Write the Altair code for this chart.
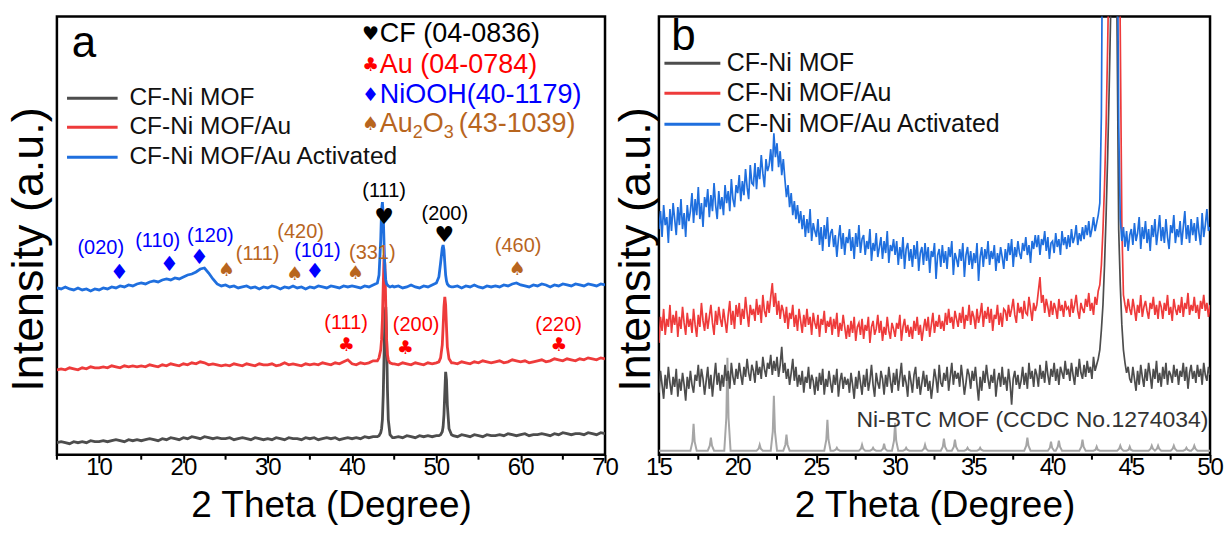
import altair as alt
import pandas as pd

GRAY = "#4D4D4D"
RED = "#EE3B3B"
BLUE = "#1F6FDE"
BROWN = "#B8651E"
TBLUE = "#0000FF"
TRED = "#FF0000"
REFC = "#A6A6A6"

# ---------------- Panel a: 2 Theta grid and stacked intensities (a.u.) ----------------
A_X = [
    5.0, 5.5, 6.0, 6.5, 7.0, 7.5, 8.0, 8.5, 9.0, 9.5,
    10.0, 10.5, 11.0, 11.5, 12.0, 12.5, 13.0, 13.5, 14.0, 14.5,
    15.0, 15.5, 16.0, 16.5, 17.0, 17.5, 18.0, 18.5, 19.0, 19.5,
    20.0, 20.5, 21.0, 21.5, 22.0, 22.5, 23.0, 23.5, 24.0, 24.5,
    25.0, 25.5, 26.0, 26.5, 27.0, 27.5, 28.0, 28.5, 29.0, 29.5,
    30.0, 30.5, 31.0, 31.5, 32.0, 32.5, 33.0, 33.5, 34.0, 34.5,
    35.0, 35.5, 36.0, 36.5, 37.0, 37.5, 38.0, 38.5, 39.0, 39.5,
    40.0, 40.5, 41.0, 41.5, 42.0, 42.5,
    43.0, 43.2, 43.4, 43.5, 43.6, 43.7, 43.8, 43.9, 44.0, 44.1, 44.2, 44.3, 44.5, 44.8,
    45.0, 45.5, 46.0, 46.5, 47.0, 47.5, 48.0, 48.5, 49.0, 49.5, 50.0,
    50.3, 50.5, 50.7, 50.8, 50.9, 51.0, 51.1, 51.2, 51.3, 51.5, 51.8,
    52.0, 52.5, 53.0, 53.5, 54.0, 54.5, 55.0, 55.5, 56.0, 56.5,
    57.0, 57.5, 58.0, 58.5, 59.0, 59.5, 60.0, 60.5, 61.0, 61.5,
    62.0, 62.5, 63.0, 63.5, 64.0, 64.5, 65.0, 65.5, 66.0, 66.5,
    67.0, 67.5, 68.0, 68.5, 69.0, 69.5, 70.0,
]
A_GRAY = [
    12, 13, 12, 11, 13, 12, 13, 12, 14, 13,
    13, 14, 13, 14, 15, 14, 13, 15, 14, 15,
    14, 15, 16, 15, 14, 16, 15, 17, 16, 15,
    17, 16, 18, 17, 16, 18, 17, 16, 17, 16,
    16, 17, 15, 16, 17, 16, 15, 17, 16, 15,
    16, 15, 17, 16, 15, 17, 16, 16, 15, 17,
    16, 17, 15, 16, 17, 16, 17, 15, 16, 17,
    16, 17, 16, 18, 17, 18,
    18, 19, 22, 26, 35, 60, 100, 140, 148, 115, 65, 35, 20, 17,
    17, 18, 17, 19, 18, 17, 19, 18, 19, 18, 19,
    19, 20, 23, 28, 40, 62, 83, 75, 50, 26, 20,
    19, 18, 20, 19, 18, 20, 19, 18, 20, 19,
    19, 20, 19, 21, 20, 19, 20, 21, 19, 20,
    20, 21, 20, 19, 21, 20, 22, 21, 20, 21,
    21, 20, 22, 21, 20, 22, 21,
]
A_RED = [
    85, 86, 85, 87, 86, 85, 87, 86, 88, 87,
    87, 88, 87, 89, 88, 87, 89, 88, 89, 88,
    89, 88, 90, 89, 88, 90, 89, 91, 90, 89,
    91, 90, 92, 91, 93, 92, 90, 91, 90, 89,
    90, 89, 91, 90, 89, 91, 90, 89, 91, 90,
    90, 91, 89, 90, 92, 90, 91, 90, 89, 91,
    90, 91, 90, 92, 91, 90, 92, 91, 93, 95,
    91, 90, 92, 91, 92, 94,
    94, 97, 105, 115, 135, 170, 200, 190, 150, 115, 100, 95, 92, 91,
    91, 90, 92, 91, 90, 92, 91, 90, 92, 91, 92,
    93, 97, 110, 128, 148, 158, 150, 128, 108, 96, 92,
    92, 91, 93, 92, 91, 93, 92, 94, 93, 92,
    93, 94, 92, 93, 95, 94, 93, 94, 92, 93,
    94, 95, 93, 94, 96, 95, 94, 96, 95, 94,
    96, 95, 97, 96, 95, 97, 96,
]
A_BLUE = [
    167, 166, 168, 166, 165, 167, 165, 166, 164, 166,
    165, 167, 166, 168, 167, 169, 168, 170, 169, 171,
    172, 171, 173, 174, 173, 175, 176, 175, 177, 176,
    178, 180, 181, 183, 186, 187, 182, 176, 171, 169,
    170, 168, 169, 167, 168, 169, 167, 168, 166, 168,
    167, 169, 168, 166, 168, 167, 169, 167, 168, 166,
    168, 167, 169, 168, 167, 169, 168, 167, 169, 168,
    169, 168, 167, 169, 168, 170,
    172, 180, 215, 245, 253, 240, 210, 185, 175, 171, 170, 169, 168, 169,
    168, 169, 167, 168, 170, 168, 167, 169, 168, 170, 172,
    178, 192, 207, 210, 205, 192, 180, 174, 171, 169, 168,
    168, 169, 167, 169, 168, 170, 168, 167, 169, 168,
    169, 168, 170, 169, 171, 172, 170, 169, 168, 170,
    169, 171, 170, 168, 170, 169, 171, 170, 169, 171,
    170, 169, 171, 170, 169, 171, 170,
]

# ---------------- Panel b (0.1 degree steps) ----------------
B_X = [
    15.0, 15.1, 15.2, 15.3, 15.4, 15.5, 15.6, 15.7, 15.8, 15.9,
    16.0, 16.1, 16.2, 16.3, 16.4, 16.5, 16.6, 16.7, 16.8, 16.9,
    17.0, 17.1, 17.2, 17.3, 17.4, 17.5, 17.6, 17.7, 17.8, 17.9,
    18.0, 18.1, 18.2, 18.3, 18.4, 18.5, 18.6, 18.7, 18.8, 18.9,
    19.0, 19.1, 19.2, 19.3, 19.4, 19.5, 19.6, 19.7, 19.8, 19.9,
    20.0, 20.1, 20.2, 20.3, 20.4, 20.5, 20.6, 20.7, 20.8, 20.9,
    21.0, 21.1, 21.2, 21.3, 21.4, 21.5, 21.6, 21.7, 21.8, 21.9,
    22.0, 22.1, 22.2, 22.3, 22.4, 22.5, 22.6, 22.7, 22.8, 22.9,
    23.0, 23.1, 23.2, 23.3, 23.4, 23.5, 23.6, 23.7, 23.8, 23.9,
    24.0, 24.1, 24.2, 24.3, 24.4, 24.5, 24.6, 24.7, 24.8, 24.9,
    25.0, 25.1, 25.2, 25.3, 25.4, 25.5, 25.6, 25.7, 25.8, 25.9,
    26.0, 26.1, 26.2, 26.3, 26.4, 26.5, 26.6, 26.7, 26.8, 26.9,
    27.0, 27.1, 27.2, 27.3, 27.4, 27.5, 27.6, 27.7, 27.8, 27.9,
    28.0, 28.1, 28.2, 28.3, 28.4, 28.5, 28.6, 28.7, 28.8, 28.9,
    29.0, 29.1, 29.2, 29.3, 29.4, 29.5, 29.6, 29.7, 29.8, 29.9,
    30.0, 30.1, 30.2, 30.3, 30.4, 30.5, 30.6, 30.7, 30.8, 30.9,
    31.0, 31.1, 31.2, 31.3, 31.4, 31.5, 31.6, 31.7, 31.8, 31.9,
    32.0, 32.1, 32.2, 32.3, 32.4, 32.5, 32.6, 32.7, 32.8, 32.9,
    33.0, 33.1, 33.2, 33.3, 33.4, 33.5, 33.6, 33.7, 33.8, 33.9,
    34.0, 34.1, 34.2, 34.3, 34.4, 34.5, 34.6, 34.7, 34.8, 34.9,
    35.0, 35.1, 35.2, 35.3, 35.4, 35.5, 35.6, 35.7, 35.8, 35.9,
    36.0, 36.1, 36.2, 36.3, 36.4, 36.5, 36.6, 36.7, 36.8, 36.9,
    37.0, 37.1, 37.2, 37.3, 37.4, 37.5, 37.6, 37.7, 37.8, 37.9,
    38.0, 38.1, 38.2, 38.3, 38.4, 38.5, 38.6, 38.7, 38.8, 38.9,
    39.0, 39.1, 39.2, 39.3, 39.4, 39.5, 39.6, 39.7, 39.8, 39.9,
    40.0, 40.1, 40.2, 40.3, 40.4, 40.5, 40.6, 40.7, 40.8, 40.9,
    41.0, 41.1, 41.2, 41.3, 41.4, 41.5, 41.6, 41.7, 41.8, 41.9,
    42.0, 42.1, 42.2, 42.3, 42.4, 42.5, 42.6, 42.7, 42.8, 42.9,
    43.0, 43.1, 43.2, 43.3, 43.4, 43.5, 43.6, 43.7, 43.8, 43.9,
    44.0, 44.1, 44.2, 44.3, 44.4, 44.5, 44.6, 44.7, 44.8, 44.9,
    45.0, 45.1, 45.2, 45.3, 45.4, 45.5, 45.6, 45.7, 45.8, 45.9,
    46.0, 46.1, 46.2, 46.3, 46.4, 46.5, 46.6, 46.7, 46.8, 46.9,
    47.0, 47.1, 47.2, 47.3, 47.4, 47.5, 47.6, 47.7, 47.8, 47.9,
    48.0, 48.1, 48.2, 48.3, 48.4, 48.5, 48.6, 48.7, 48.8, 48.9,
    49.0, 49.1, 49.2, 49.3, 49.4, 49.5, 49.6, 49.7, 49.8, 49.9,
    50.0,
]
B_BLUE = [
    226, 244, 218, 250, 230, 238, 212, 246, 224, 252,
    236, 220, 248, 230, 256, 226, 242, 218, 250, 234,
    244, 262, 232, 256, 240, 268, 236, 252, 228, 258,
    248, 266, 238, 260, 244, 272, 250, 236, 264, 246,
    258, 240, 270, 252, 264, 244, 276, 256, 248, 270,
    262, 280, 254, 274, 260, 286, 268, 256, 290, 272,
    270, 292, 266, 288, 276, 300, 282, 268, 296, 284,
    290, 306, 284, 322, 298, 312, 288, 304, 280, 296,
    276, 258, 270, 248, 262, 240, 254, 236, 250, 232,
    244, 226, 240, 218, 236, 222, 246, 214, 232, 224,
    218, 236, 210, 228, 204, 230, 216, 238, 208, 222,
    226, 208, 220, 198, 216, 230, 206, 222, 200, 218,
    212, 226, 204, 218, 196, 222, 208, 230, 202, 216,
    220, 200, 214, 206, 226, 194, 212, 204, 222, 198,
    208, 218, 196, 214, 202, 224, 192, 210, 204, 216,
    200, 214, 190, 208, 196, 218, 186, 206, 212, 194,
    206, 188, 210, 196, 214, 184, 202, 208, 190, 212,
    194, 208, 182, 204, 198, 212, 176, 200, 206, 188,
    210, 192, 204, 186, 208, 198, 214, 180, 202, 196,
    188, 206, 194, 212, 178, 200, 208, 190, 204, 186,
    202, 192, 212, 174, 198, 208, 188, 206, 196, 214,
    190, 204, 196, 210, 184, 202, 192, 208, 198, 186,
    206, 194, 212, 200, 216, 188, 208, 198, 214, 202,
    196, 212, 204, 218, 200, 210, 192, 214, 206, 220,
    208, 220, 200, 216, 210, 224, 204, 218, 196, 212,
    214, 202, 222, 208, 216, 200, 224, 210, 218, 206,
    220, 208, 226, 212, 218, 230, 210, 222, 214, 228,
    216, 230, 220, 234, 218, 226, 238, 224, 232, 240,
    252, 340, 600, 600, 600, 600, 600, 600, 600, 600,
    600, 560, 330, 236, 214, 228, 208, 224, 204, 220,
    226, 210, 232, 214, 222, 238, 206, 228, 216, 234,
    212, 226, 204, 230, 218, 236, 210, 224, 240, 214,
    228, 212, 236, 218, 206, 230, 222, 240, 212, 226,
    218, 234, 210, 228, 244, 216, 230, 212, 236, 220,
    232, 214, 238, 222, 210, 242, 218, 230, 246, 224,
    228,
]
B_RED = [
    112, 138, 124, 146, 120, 136, 128, 150, 122, 140,
    130, 144, 118, 138, 126, 148, 132, 120, 142, 128,
    136, 122, 146, 130, 118, 140, 128, 152, 134, 124,
    142, 126, 138, 150, 132, 120, 144, 130, 148, 136,
    128, 146, 134, 122, 140, 154, 130, 144, 126, 150,
    138, 152, 130, 146, 136, 158, 142, 128, 150, 140,
    146, 134, 156, 140, 150, 132, 160, 144, 138, 154,
    142, 158, 172, 148, 162, 140, 154, 136, 150, 144,
    132, 148, 126, 142, 136, 150, 128, 140, 124, 146,
    134, 122, 140, 128, 146, 130, 138, 120, 142, 132,
    126, 140, 118, 136, 130, 144, 122, 134, 128, 138,
    120, 136, 126, 142, 118, 132, 124, 140, 128, 116,
    130, 118, 134, 122, 138, 114, 128, 132, 120, 136,
    116, 130, 124, 138, 112, 128, 134, 120, 126, 140,
    122, 134, 114, 128, 120, 138, 124, 116, 132, 126,
    118, 132, 126, 140, 114, 128, 136, 122, 130, 118,
    128, 116, 134, 124, 138, 120, 130, 114, 126, 136,
    124, 138, 118, 130, 142, 122, 134, 128, 140, 126,
    134, 124, 142, 130, 146, 132, 138, 126, 144, 136,
    128, 142, 132, 148, 126, 140, 134, 150, 130, 144,
    138, 126, 146, 132, 140, 152, 128, 144, 136, 148,
    132, 146, 124, 140, 136, 150, 130, 142, 128, 146,
    144, 134, 150, 138, 146, 156, 140, 132, 152, 142,
    148, 136, 154, 142, 140, 158, 146, 134, 152, 144,
    150, 164, 178, 152, 160, 142, 156, 148, 138, 154,
    140, 152, 146, 136, 156, 144, 150, 138, 154, 146,
    148, 138, 156, 142, 150, 160, 144, 136, 152, 146,
    142, 156, 148, 162, 144, 152, 140, 158, 150, 164,
    170, 190, 225, 270, 330, 410, 510, 600, 600, 600,
    600, 600, 600, 420, 230, 160, 150, 142, 156, 146,
    140, 156, 146, 134, 150, 142, 160, 138, 148, 154,
    144, 136, 152, 146, 158, 140, 150, 136, 154, 148,
    136, 152, 144, 160, 140, 148, 134, 156, 146, 140,
    150, 142, 158, 138, 152, 146, 162, 140, 150, 144,
    158, 142, 150, 136, 154, 146, 160, 144, 152, 138,
    150,
]
B_GRAY = [
    62, 84, 70, 56, 80, 66, 88, 72, 60, 78,
    68, 86, 58, 76, 64, 82, 70, 54, 78, 66,
    84, 70, 62, 80, 74, 90, 68, 86, 76, 60,
    74, 88, 66, 80, 58, 76, 92, 70, 82, 64,
    80, 68, 90, 74, 84, 66, 92, 78, 70, 86,
    76, 92, 80, 70, 88, 78, 96, 82, 74, 90,
    84, 72, 94, 80, 88, 76, 98, 86, 78, 92,
    86, 100, 80, 94, 84, 98, 78, 90, 108, 82,
    92, 76, 86, 70, 82, 96, 74, 88, 68, 80,
    70, 84, 62, 78, 72, 88, 66, 80, 74, 60,
    78, 64, 82, 70, 86, 60, 76, 68, 84, 72,
    62, 80, 70, 86, 58, 74, 82, 66, 78, 70,
    76, 62, 82, 70, 56, 78, 66, 84, 72, 60,
    80, 68, 86, 64, 74, 90, 70, 58, 82, 72,
    66, 84, 76, 60, 80, 68, 88, 74, 62, 82,
    70, 86, 64, 78, 92, 68, 80, 72, 58, 84,
    74, 62, 80, 88, 66, 78, 60, 72, 84, 68,
    80, 64, 74, 56, 70, 86, 76, 62, 90, 72,
    68, 82, 74, 88, 64, 78, 92, 70, 84, 76,
    82, 68, 90, 76, 60, 72, 86, 80, 66, 84,
    74, 88, 70, 54, 78, 64, 84, 72, 90, 76,
    66, 80, 72, 86, 58, 74, 82, 68, 88, 70,
    78, 64, 86, 72, 50, 76, 84, 70, 80, 66,
    74, 88, 70, 82, 66, 92, 76, 84, 68, 86,
    80, 68, 90, 76, 84, 72, 94, 80, 70, 86,
    78, 92, 74, 86, 70, 88, 82, 76, 94, 80,
    86, 74, 92, 80, 70, 88, 78, 96, 82, 76,
    90, 78, 94, 82, 88, 76, 98, 84, 90, 96,
    105, 125, 150, 190, 240, 300, 370, 450, 600, 600,
    600, 420, 225, 170, 130, 105, 92, 82, 88, 76,
    72, 88, 76, 64, 84, 70, 90, 78, 68, 86,
    74, 92, 80, 66, 86, 76, 94, 72, 82, 68,
    88, 76, 92, 70, 84, 80, 72, 90, 78, 86,
    70, 84, 78, 92, 74, 88, 66, 82, 90, 76,
    84, 72, 90, 78, 86, 70, 92, 80, 74, 88,
    80,
]
# Ni-BTC MOF simulated pattern (CCDC No.1274034)
REF_X = [
    15.00,
    17.00, 17.13, 17.20, 17.27, 17.40,
    18.10, 18.23, 18.30, 18.37, 18.50,
    19.15, 19.28, 19.35, 19.42, 19.55,
    21.20, 21.33, 21.40, 21.47, 21.60,
    22.10, 22.23, 22.30, 22.37, 22.50,
    22.90, 23.03, 23.10, 23.17, 23.30,
    25.50, 25.63, 25.70, 25.77, 25.90,
    26.10, 26.23, 26.30, 26.37, 26.50,
    27.70, 27.83, 27.90, 27.97, 28.10,
    28.40, 28.53, 28.60, 28.67, 28.80,
    29.10, 29.23, 29.30, 29.37, 29.50,
    29.80, 29.93, 30.00, 30.07, 30.20,
    30.50, 30.63, 30.70, 30.77, 30.90,
    31.70, 31.83, 31.90, 31.97, 32.10,
    32.90, 33.03, 33.10, 33.17, 33.30,
    33.60, 33.73, 33.80, 33.87, 34.00,
    34.40, 34.53, 34.60, 34.67, 34.80,
    35.20, 35.33, 35.40, 35.47, 35.60,
    38.20, 38.33, 38.40, 38.47, 38.60,
    39.70, 39.83, 39.90, 39.97, 40.10,
    40.20, 40.33, 40.40, 40.47, 40.60,
    41.70, 41.83, 41.90, 41.97, 42.10,
    42.60, 42.73, 42.80, 42.87, 43.00,
    44.10, 44.23, 44.30, 44.37, 44.50,
    44.70, 44.83, 44.90, 44.97, 45.10,
    46.10, 46.23, 46.30, 46.37, 46.50,
    46.63, 46.70, 46.77, 46.90,
    47.50, 47.63, 47.70, 47.77, 47.90,
    48.30, 48.43, 48.50, 48.57, 48.70,
    48.80, 48.93, 49.00, 49.07, 49.20,
    50.00,
]
REF_Y = [
    4,
    4, 13, 31, 13, 4,
    4, 9, 17, 9, 4,
    4, 37, 97, 37, 4,
    4, 6, 10, 6, 4,
    4, 23, 59, 23, 4,
    4, 10, 20, 10, 4,
    4, 15, 35, 15, 4,
    4, 5, 7, 5, 4,
    4, 6, 10, 6, 4,
    4, 5, 7, 5, 4,
    4, 6, 11, 6, 4,
    4, 14, 32, 14, 4,
    4, 5, 7, 5, 4,
    4, 6, 10, 6, 4,
    4, 8, 16, 8, 4,
    4, 8, 15, 8, 4,
    4, 5, 7, 5, 4,
    4, 5, 7, 5, 4,
    4, 9, 17, 9, 4,
    4, 7, 13, 7, 4,
    4, 8, 14, 8, 4,
    4, 8, 15, 8, 4,
    4, 5, 8, 5, 4,
    4, 6, 9, 6, 4,
    4, 5, 8, 5, 4,
    4, 6, 9, 6, 4,
    6, 9, 6, 4,
    4, 6, 9, 6, 4,
    4, 5, 7, 5, 4,
    4, 6, 9, 6, 4,
    4,
]

# ---------------- Text / annotation content (data coordinates) ----------------
SERIES = ["CF-Ni MOF", "CF-Ni MOF/Au", "CF-Ni MOF/Au Activated"]
SERIES_COLORS = [GRAY, RED, BLUE]

A_LEG_Y = [357, 328, 298]
B_LEG_Y = [392, 362, 331]

A_TICKS = [10, 20, 30, 40, 50, 60, 70]
A_MINOR = [5, 15, 25, 35, 45, 55, 65]
B_TICKS = [15, 20, 25, 30, 35, 40, 45, 50]
B_MINOR = [17.5, 22.5, 27.5, 32.5, 37.5, 42.5, 47.5]

# NiOOH (blue diamonds)
NI_SYM_X = [12.4, 18.35, 21.9, 35.6]
NI_SYM_Y = [182, 190, 197, 183]
NI_LAB_X = [10.2, 16.95, 23.2, 35.9]
NI_LAB_Y = [207, 214, 219, 204]
NI_LAB = ["(020)", "(110)", "(120)", "(101)"]
# Au2O3 (brown spades)
AO_SYM_X = [25.1, 33.2, 40.4, 59.6]
AO_SYM_Y = [185, 181, 182, 186]
AO_LAB_X = [28.8, 33.9, 42.4, 59.7]
AO_LAB_Y = [201, 223, 202, 209]
AO_LAB = ["(111)", "(420)", "(331)", "(460)"]
# CF (black hearts)
CF_SYM_X = [43.8, 50.95]
CF_SYM_Y = [238, 220]
CF_LAB_X = [43.8, 51.0]
CF_LAB_Y = [264, 241]
CF_LAB = ["(111)", "(200)"]
# Au (red clubs)
AU_SYM_X = [39.3, 46.3, 64.5]
AU_SYM_Y = [110, 107, 110]
AU_LAB_X = [39.3, 47.6, 64.5]
AU_LAB_Y = [132, 130, 130]
AU_LAB = ["(111)", "(200)", "(220)"]

PH_SYM_X = 42.2
PH_TXT_X = 43.3
PH_Y = [421, 390, 360, 331]
PH_SYM = ["♥", "♣", "♦", "♠"]
PH_COL = ["#000000", TRED, TBLUE, BROWN]
PH_TXT = ["CF (04-0836)", "Au (04-0784)", "NiOOH(40-1179)"]

W_A, W_B, H = 549, 552, 439


def xenc(domain, values, title):
    return alt.X(
        "x:Q",
        scale=alt.Scale(domain=domain, nice=False, zero=False),
        axis=alt.Axis(values=values, title=title, format="d", titlePadding=8,
                      labelPadding=5, labelBaseline="middle", tickSize=8,
                      labelFlush=False, titleFontSize=37),
    )


def yenc(tp):
    return alt.Y(
        "y:Q",
        scale=alt.Scale(domain=[0, 439], nice=False, zero=False),
        axis=alt.Axis(title="Intensity (a.u.)", labels=False, ticks=False,
                      domain=False, grid=False, titlePadding=tp, titleFontSize=45,
                      titleY=233),
    )


def line_layer(xs, ys, color, xe, ye, width):
    df = pd.DataFrame({"x": xs, "y": ys})
    return alt.Chart(df).mark_line(color=color, strokeWidth=width, clip=True).encode(
        x=xe, y=ye, order="x:Q")


def text_layer(xs, ys, texts, color, xe, ye, size, font="Liberation Sans",
               align="center", dx=0, dy=0):
    df = pd.DataFrame({"x": xs, "y": ys, "t": texts})
    return alt.Chart(df).mark_text(color=color, fontSize=size, font=font, align=align,
                                   baseline="middle", dx=dx, dy=dy).encode(
        x=xe, y=ye, text="t:N")


def minor_ticks(vals, xe):
    df = pd.DataFrame({"x": vals})
    return alt.Chart(df).mark_rule(color="black", strokeWidth=2).encode(
        x=xe, y=alt.value(H), y2=alt.value(H + 5))


def legend_layers(x1, x2, tx, ys, xe, ye, size):
    df = pd.DataFrame({"x": [x1] * 3, "x2": [x2] * 3, "y": ys, "c": SERIES_COLORS})
    rules = alt.Chart(df).mark_rule(strokeWidth=3).encode(
        x=xe, x2="x2:Q", y=ye, color=alt.Color("c:N", scale=None))
    df2 = pd.DataFrame({"x": [tx] * 3, "y": ys, "t": SERIES})
    texts = alt.Chart(df2).mark_text(align="left", baseline="middle", fontSize=size,
                                     color="#111111").encode(x=xe, y=ye, text="t:N")
    return [rules, texts]


# ---------------- Panel a ----------------
xa = xenc([5, 70], A_TICKS, "2 Theta (Degree)")
ya = yenc(5)
layers_a = [
    line_layer(A_X, A_GRAY, GRAY, xa, ya, 2.8),
    line_layer(A_X, A_RED, RED, xa, ya, 2.8),
    line_layer(A_X, A_BLUE, BLUE, xa, ya, 2.8),
    minor_ticks(A_MINOR, xa),
]
layers_a += legend_layers(6.2, 12.2, 13.6, A_LEG_Y, xa, ya, 24.5)
layers_a += [
    text_layer(NI_SYM_X, NI_SYM_Y, ["♦"] * 4, TBLUE, xa, ya, 21, font="DejaVu Sans"),
    text_layer(NI_LAB_X, NI_LAB_Y, NI_LAB, TBLUE, xa, ya, 20),
    text_layer(AO_SYM_X, AO_SYM_Y, ["♠"] * 4, BROWN, xa, ya, 19, font="DejaVu Sans"),
    text_layer(AO_LAB_X, AO_LAB_Y, AO_LAB, BROWN, xa, ya, 20),
    text_layer(CF_SYM_X, CF_SYM_Y, ["♥"] * 2, "#000000", xa, ya, 22, font="DejaVu Sans"),
    text_layer(CF_LAB_X, CF_LAB_Y, CF_LAB, "#000000", xa, ya, 20),
    text_layer(AU_SYM_X, AU_SYM_Y, ["♣"] * 3, TRED, xa, ya, 19, font="DejaVu Sans"),
    text_layer(AU_LAB_X, AU_LAB_Y, AU_LAB, TRED, xa, ya, 20),
    text_layer([8.2], [411], ["a"], "#000000", xa, ya, 44),
]
for i in range(4):
    layers_a.append(text_layer([PH_SYM_X], [PH_Y[i]], [PH_SYM[i]], PH_COL[i], xa, ya, 19,
                               font="DejaVu Sans"))
for i in range(3):
    layers_a.append(text_layer([PH_TXT_X], [PH_Y[i]], [PH_TXT[i]], PH_COL[i], xa, ya, 27,
                               align="left"))
# Au2O3 (43-1039) with subscripts
layers_a += [
    text_layer([PH_TXT_X], [PH_Y[3]], ["Au"], BROWN, xa, ya, 27, align="left"),
    text_layer([PH_TXT_X], [PH_Y[3]], ["2"], BROWN, xa, ya, 18, align="left", dx=33, dy=9),
    text_layer([PH_TXT_X], [PH_Y[3]], ["O"], BROWN, xa, ya, 27, align="left", dx=43),
    text_layer([PH_TXT_X], [PH_Y[3]], ["3"], BROWN, xa, ya, 18, align="left", dx=64, dy=9),
    text_layer([PH_TXT_X], [PH_Y[3]], ["(43-1039)"], BROWN, xa, ya, 27, align="left",
               dx=79),
]
panel_a = alt.layer(*layers_a).properties(width=W_A, height=H)

# ---------------- Panel b ----------------
xb = xenc([15, 50], B_TICKS, "2 Theta (Degree)")
yb = yenc(0)
layers_b = [
    line_layer(REF_X, REF_Y, REFC, xb, yb, 2),
    line_layer(B_X, B_GRAY, GRAY, xb, yb, 1.7),
    line_layer(B_X, B_RED, RED, xb, yb, 1.7),
    line_layer(B_X, B_BLUE, BLUE, xb, yb, 1.7),
    minor_ticks(B_MINOR, xb),
]
layers_b += legend_layers(15.35, 18.9, 19.3, B_LEG_Y, xb, yb, 25)
layers_b += [
    text_layer([49.9], [35], ["Ni-BTC MOF (CCDC No.1274034)"], "#333333", xb, yb, 23,
               align="right"),
    text_layer([16.55], [418], ["b"], "#000000", xb, yb, 44),
]
panel_b = alt.layer(*layers_b).properties(width=W_B, height=H)

chart = alt.hconcat(panel_a, panel_b, spacing=54, bounds="flush").properties(
    padding={"left": 5, "top": 13, "right": 2, "bottom": 4}
).configure(font="Liberation Sans").configure_view(
    stroke="black", strokeWidth=2.5
).configure_axis(
    labelFontSize=24, labelColor="black", titleColor="black",
    tickColor="black", tickWidth=2, titleFontWeight="normal", grid=False, domain=False,
    labelFont="Liberation Sans", titleFont="Liberation Sans",
)

chart.save("out.html", embed_options={"renderer": "svg", "actions": False})
